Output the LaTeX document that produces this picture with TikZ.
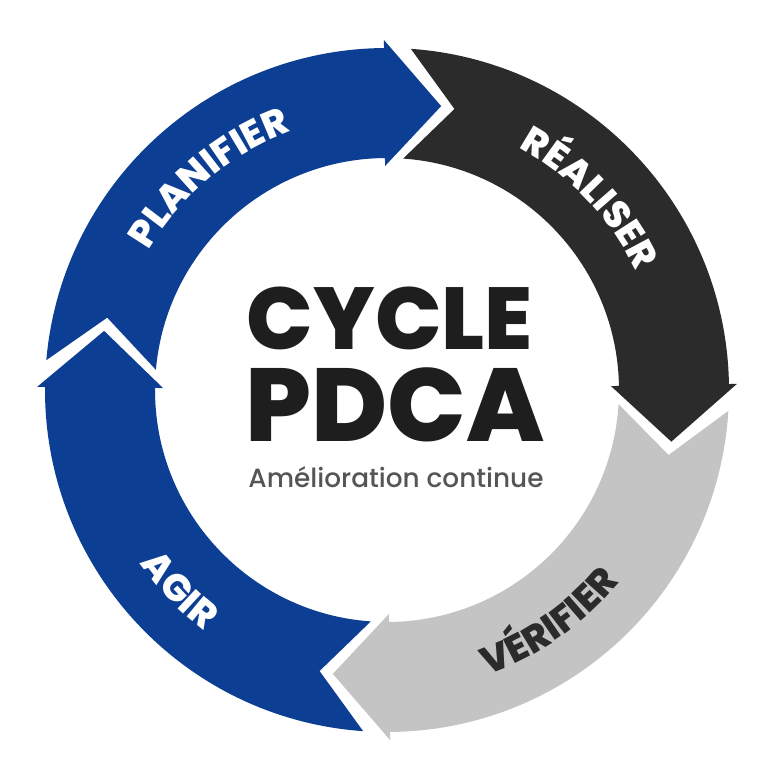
\documentclass[tikz,border=0pt]{standalone}
\usepackage{fontspec}
\setmainfont{Poppins}
\newfontfamily\popxb{Poppins ExtraBold}
\newfontfamily\popmed{Poppins Medium}
\usetikzlibrary{decorations.text}
\definecolor{pblue}{RGB}{12,62,148}
\definecolor{pdark}{RGB}{43,43,43}
\definecolor{plight}{RGB}{196,196,196}
\definecolor{ptitle}{RGB}{30,30,30}
\definecolor{psub}{RGB}{85,85,85}
\tikzset{
  curvlab/.style 2 args={decorate, decoration={text along path, text align=center, text color=#1,
     text={|\popxb\fontsize{21.5}{24}\selectfont|#2}}},
  bigtitle/.style={anchor=base, inner sep=0pt, text=ptitle, font=\popxb\fontsize{#1}{#1}\selectfont},
}
\begin{document}
\begin{tikzpicture}[x=0.02cm,y=0.02cm]
\useasboundingbox (0,0) rectangle (768,768);
\fill[white] (0,0) rectangle (768,768);
\begin{scope}[shift={(387,378)}]
% PLANIFIER (blue)
\fill[pblue] (175:342) arc[start angle=175,end angle=90.5,radius=342] -- (90.5:350) -- (79.2:289) -- (90.5:224) -- (90.5:232) arc[start angle=90.5,end angle=175,radius=232] -- (165.5:289) -- cycle;
% REALISER (dark)
\fill[pdark] (86:342) arc[start angle=86,end angle=1,radius=342] -- (1:350) -- (-10.3:289) -- (1:224) -- (1:232) arc[start angle=1,end angle=86,radius=232] -- (76.5:289) -- cycle;
% VERIFIER (light)
\fill[plight] (-3.5:342) arc[start angle=-3.5,end angle=-89.5,radius=342] -- (-89.5:350) -- (-100.8:289) -- (-89.5:224) -- (-89.5:232) arc[start angle=-89.5,end angle=-3.5,radius=232] -- (-13:289) -- cycle;
% AGIR (blue)
\fill[pblue] (-94:342) arc[start angle=-94,end angle=-180.5,radius=342] -- (-180.5:350) -- (-191.8:289) -- (-180.5:224) -- (-180.5:232) arc[start angle=-180.5,end angle=-94,radius=232] -- (-103.5:289) -- cycle;
% curved labels
\path[curvlab={white}{PLANIFIER}] (160:276) arc[start angle=160,end angle=100,radius=276];
\path[curvlab={white}{RÉALISER}] (73.5:276) arc[start angle=73.5,end angle=13.5,radius=276];
\path[curvlab={pdark}{VÉRIFIER}] (-85:302) arc[start angle=-85,end angle=-25,radius=302];
\path[curvlab={white}{AGIR}] (194:302) arc[start angle=194,end angle=254,radius=302];
\end{scope}
\node[bigtitle=50] (cycle) at (390,418) {CYCLE};
\node[bigtitle=59] (pdca) at (395,326) {PDCA};
\node[anchor=base, inner sep=0pt, text=psub, font=\popmed\fontsize{15}{15}\selectfont] (sub) at (396,280) {Amélioration continue};
\end{tikzpicture}
\end{document}
